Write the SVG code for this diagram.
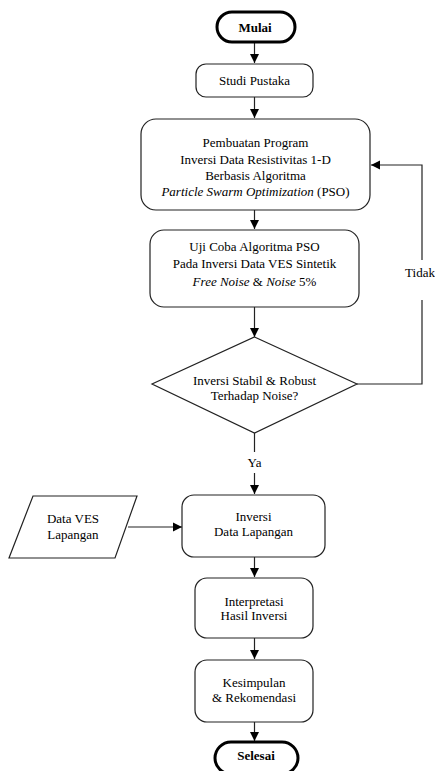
<svg xmlns="http://www.w3.org/2000/svg" width="435" height="771" viewBox="0 0 435 771" font-family="'Liberation Serif', 'DejaVu Serif', serif">
<style>
text{font-family:'Liberation Serif','DejaVu Serif',serif;font-size:13px;fill:#000;text-anchor:middle}
.b{font-weight:bold}
.i{font-style:italic}
.box{fill:#fff;stroke:#222;stroke-width:1.2}
.term{fill:#fff;stroke:#000;stroke-width:3}
.ln{fill:none;stroke:#222;stroke-width:1.2}
</style>
<defs>
<marker id="ah" markerWidth="10" markerHeight="10" refX="9" refY="5" orient="auto" markerUnits="userSpaceOnUse">
<path d="M0,0.5 L9,5 L0,9.5 Z" fill="#000"/>
</marker>
</defs>
<g id="connectors">
<line class="ln" x1="254.5" y1="43" x2="254.5" y2="63" marker-end="url(#ah)"/>
<line class="ln" x1="254.5" y1="97" x2="254.5" y2="118" marker-end="url(#ah)"/>
<line class="ln" x1="254.5" y1="210" x2="254.5" y2="229" marker-end="url(#ah)"/>
<line class="ln" x1="254.5" y1="307" x2="254.5" y2="337" marker-end="url(#ah)"/>
<polyline class="ln" points="357,384 422,384 422,300"/>
<polyline class="ln" points="422,260 422,165 371,165" marker-end="url(#ah)"/>
<line class="ln" x1="254.5" y1="433" x2="254.5" y2="452"/>
<line class="ln" x1="254.5" y1="473" x2="254.5" y2="494" marker-end="url(#ah)"/>
<line class="ln" x1="128" y1="527" x2="182" y2="527" marker-end="url(#ah)"/>
<line class="ln" x1="254.5" y1="557" x2="254.5" y2="577" marker-end="url(#ah)"/>
<line class="ln" x1="254.5" y1="638" x2="254.5" y2="659" marker-end="url(#ah)"/>
<line class="ln" x1="254.5" y1="722" x2="254.5" y2="741" marker-end="url(#ah)"/>
<text x="420" y="277">Tidak</text>
<text x="254.5" y="467">Ya</text>
</g>
<g id="mulai">
<rect class="term" x="217" y="12" width="78" height="30" rx="15"/>
<text class="b" x="255" y="32">Mulai</text>
</g>
<g id="studi">
<rect class="box" x="196" y="64" width="117" height="33" rx="10"/>
<text x="254.5" y="85">Studi Pustaka</text>
</g>
<g id="pembuatan">
<rect class="box" x="141" y="119" width="229" height="91" rx="15"/>
<text x="255.5" y="147">Pembuatan Program</text>
<text x="255.5" y="164">Inversi Data Resistivitas 1-D</text>
<text x="255.5" y="180">Berbasis Algoritma</text>
<text x="255.5" y="196"><tspan class="i">Particle Swarm Optimization</tspan> (PSO)</text>
</g>
<g id="ujicoba">
<rect class="box" x="150" y="230" width="209" height="77" rx="14"/>
<text x="254.5" y="251">Uji Coba Algoritma PSO</text>
<text x="254.5" y="268">Pada Inversi Data VES Sintetik</text>
<text x="254.5" y="286"><tspan class="i">Free Noise</tspan> &amp; <tspan class="i">Noise</tspan> 5%</text>
</g>
<g id="keputusan">
<polygon class="box" points="254.5,337 357,384 254.5,433 152,384"/>
<text x="254.5" y="385">Inversi Stabil &amp; Robust</text>
<text x="254.5" y="400">Terhadap Noise?</text>
</g>
<g id="dataves">
<polygon class="box" points="33,496 137,496 115,558 9,558"/>
<text x="73" y="523">Data VES</text>
<text x="73" y="539">Lapangan</text>
</g>
<g id="inversi">
<rect class="box" x="182" y="495" width="143" height="62" rx="12"/>
<text x="253.5" y="521">Inversi</text>
<text x="253.5" y="536">Data Lapangan</text>
</g>
<g id="interpretasi">
<rect class="box" x="195" y="578" width="118" height="60" rx="12"/>
<text x="254" y="606">Interpretasi</text>
<text x="254" y="620">Hasil Inversi</text>
</g>
<g id="kesimpulan">
<rect class="box" x="195" y="660" width="118" height="62" rx="12"/>
<text x="254" y="687">Kesimpulan</text>
<text x="254" y="702">&amp; Rekomendasi</text>
</g>
<g id="selesai">
<rect class="term" x="215" y="742" width="83" height="32" rx="16"/>
<text class="b" x="256" y="760">Selesai</text>
</g>
</svg>
